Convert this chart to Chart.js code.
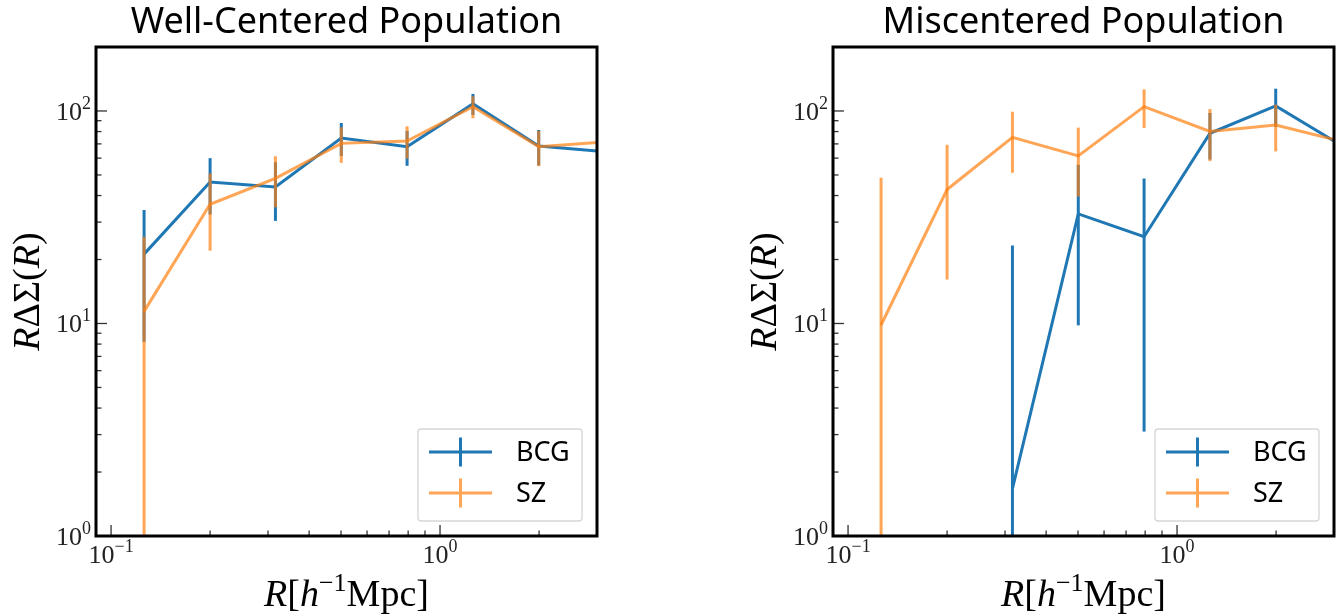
<!DOCTYPE html>
<html>
<head>
<meta charset="utf-8">
<script src="https://cdn.jsdelivr.net/npm/chart.js@4.4.1/dist/chart.umd.min.js"></script>
<style>
  html, body { margin: 0; padding: 0; background: #fff; }
  body { width: 1344px; height: 615px; position: relative; overflow: hidden; }
  .panel { position: absolute; top: 0; height: 615px; }
  #left { left: 0; width: 610px; }
  #right { left: 737px; width: 607px; }
</style>
</head>
<body>
<div class="panel" id="left"><canvas id="wellChart"></canvas></div>
<div class="panel" id="right"><canvas id="misChart"></canvas></div>
<script>
// radial bins [h^-1 Mpc]
var radii = [0.126, 0.2, 0.316, 0.501, 0.794, 1.259, 1.995, 3.162];

// Well-centered population: R*DeltaSigma and 1-sigma errors
var wellBCG = [21.2, 46.3, 43.9, 74.6, 67.9, 108, 68.4, 64.4];
var wellBCGErr = [13.0, 13.7, 13.5, 13.2, 12.7, 12.3, 13.0, 12.0];
var wellSZ = [11.4, 36.4, 48.2, 70.4, 72.2, 104.8, 67.8, 71.6];
var wellSZErr = [14.2, 14.4, 13.0, 13.4, 12.5, 12.4, 12.8, 12.0];

// Miscentered population (BCG negative in first two bins -> not shown on log axis)
var misBCG = [null, null, 1.67, 32.8, 25.6, 78.5, 105.7, 68.8];
var misBCGErr = [null, null, 21.6, 23.0, 22.5, 19.4, 21.6, 20.0];
var misSZ = [9.84, 42.7, 75.2, 61.5, 104.8, 80.1, 85.8, 71.9];
var misSZErr = [38.7, 26.6, 24.0, 22.0, 21.6, 22.0, 21.3, 20.0];

// axis ticks
var xMajorTicks = [0.1, 1];
var xMinorTicks = [0.2, 0.3, 0.4, 0.5, 0.6, 0.7, 0.8, 0.9, 2, 3];
var xTickLabels = [['10', '\u22121'], ['10', '0']];
var yMajorTicks = [1, 10, 100];
var yMinorTicks = [2, 3, 4, 5, 6, 7, 8, 9, 20, 30, 40, 50, 60, 70, 80, 90];
var yTickLabels = [['10', '0'], ['10', '1'], ['10', '2']];

var BLUE = '#1f77b4';
var ORANGE = 'rgba(255,127,14,0.7)';
var SERIF = "'Liberation Serif', 'DejaVu Serif', serif";
var SANS = "'Noto Sans', 'DejaVu Sans', sans-serif";

function toPoints(vals) {
    return radii.map(function (r, i) { return { x: r, y: vals[i] }; });
}

// draw a run of differently styled text pieces
function drawRuns(ctx, runs, x, y, align) {
    var w = 0;
    runs.forEach(function (r) { ctx.font = r.font; r.w = ctx.measureText(r.t).width; w += r.w; });
    var cx = align === 'center' ? x - w / 2 : (align === 'right' ? x - w : x);
    ctx.textAlign = 'left';
    ctx.textBaseline = 'alphabetic';
    runs.forEach(function (r) { ctx.font = r.font; ctx.fillText(r.t, cx, y + (r.dy || 0)); cx += r.w; });
}

// vertical error bars, drawn right after each dataset
var errorBars = {
    id: 'errorBars',
    afterDatasetDraw: function (chart, args) {
        var ds = chart.data.datasets[args.index];
        if (!ds.errors) return;
        var ctx = chart.ctx, a = chart.chartArea;
        var xs = chart.scales.x, ys = chart.scales.y;
        ctx.save();
        ctx.beginPath();
        ctx.rect(a.left, a.top, a.right - a.left, a.bottom - a.top);
        ctx.clip();
        ctx.strokeStyle = ds.borderColor;
        ctx.lineWidth = ds.borderWidth;
        ds.data.forEach(function (p, i) {
            var e = ds.errors[i];
            if (p.y == null || e == null) return;
            var px = xs.getPixelForValue(p.x);
            var top = ys.getPixelForValue(p.y + e);
            var lo = p.y - e;
            var bot = lo > 0 ? ys.getPixelForValue(lo) : a.bottom + 5;
            ctx.beginPath();
            ctx.moveTo(px, top);
            ctx.lineTo(px, bot);
            ctx.stroke();
        });
        ctx.restore();
    }
};

// matplotlib-like frame: spines, inward ticks, labels, legend
var mplFrame = {
    id: 'mplFrame',
    afterDraw: function (chart) {
        var ctx = chart.ctx, a = chart.chartArea;
        var xs = chart.scales.x, ys = chart.scales.y;
        ctx.save();

        // tick marks
        ctx.strokeStyle = '#333';
        ctx.lineWidth = 1.3;
        function tick(isX, v, len) {
            ctx.beginPath();
            if (isX) {
                var px = xs.getPixelForValue(v);
                ctx.moveTo(px, a.bottom); ctx.lineTo(px, a.bottom - len);
            } else {
                var py = ys.getPixelForValue(v);
                ctx.moveTo(a.left, py); ctx.lineTo(a.left + len, py);
            }
            ctx.stroke();
        }
        xMajorTicks.forEach(function (v) { tick(true, v, 11); });
        xMinorTicks.forEach(function (v) { tick(true, v, 5.5); });
        yMajorTicks.forEach(function (v) { tick(false, v, 11); });
        yMinorTicks.forEach(function (v) { tick(false, v, 5.5); });

        // spines
        ctx.strokeStyle = '#000';
        ctx.lineWidth = 3;
        ctx.strokeRect(a.left, a.top, a.right - a.left, a.bottom - a.top);

        // tick labels
        ctx.fillStyle = '#222';
        var big = '26px ' + SERIF, small = '18px ' + SERIF;
        xMajorTicks.forEach(function (v, i) {
            drawRuns(ctx, [{ t: xTickLabels[i][0], font: big }, { t: xTickLabels[i][1], font: small, dy: -11 }],
                xs.getPixelForValue(v), a.bottom + 27, 'center');
        });
        yMajorTicks.forEach(function (v, i) {
            drawRuns(ctx, [{ t: yTickLabels[i][0], font: big }, { t: yTickLabels[i][1], font: small, dy: -11 }],
                a.left - 5, ys.getPixelForValue(v) + 9, 'right');
        });

        // axis titles
        ctx.fillStyle = '#000';
        var it = 'italic 38px ' + SERIF, rm = '38px ' + SERIF, sup = '26px ' + SERIF;
        drawRuns(ctx, [
            { t: 'R', font: it }, { t: '[', font: rm }, { t: 'h', font: it },
            { t: '\u22121', font: sup, dy: -15 }, { t: 'Mpc', font: rm }, { t: ']', font: rm }
        ], (a.left + a.right) / 2, 606, 'center');
        ctx.save();
        ctx.translate(a.left - 57, (a.top + a.bottom) / 2);
        ctx.rotate(-Math.PI / 2);
        drawRuns(ctx, [
            { t: 'R', font: it }, { t: '\u0394\u03a3(', font: rm }, { t: 'R', font: it }, { t: ')', font: rm }
        ], 0, 0, 'center');
        ctx.restore();

        // legend
        var bw = 164, bh = 92;
        var bx = a.right - 15 - bw, by = a.bottom - 15 - bh;
        ctx.beginPath();
        ctx.roundRect(bx, by, bw, bh, 3);
        ctx.fillStyle = 'rgba(255,255,255,0.8)';
        ctx.fill();
        ctx.strokeStyle = '#d6d6d6';
        ctx.lineWidth = 1.3;
        ctx.stroke();
        chart.data.datasets.forEach(function (ds, i) {
            var ry = by + 23 + i * 41;
            ctx.strokeStyle = ds.borderColor;
            ctx.lineWidth = 3;
            ctx.beginPath();
            ctx.moveTo(bx + 11, ry); ctx.lineTo(bx + 74, ry);
            ctx.moveTo(bx + 42.5, ry - 14.5); ctx.lineTo(bx + 42.5, ry + 14.5);
            ctx.stroke();
            ctx.fillStyle = '#000';
            ctx.font = '27px ' + SANS;
            ctx.textAlign = 'left';
            ctx.textBaseline = 'middle';
            ctx.fillText(ds.label, bx + 98, ry + 1);
        });
        ctx.restore();
    }
};

function makePanel(id, title, bcg, bcgErr, sz, szErr, padRight) {
    new Chart(document.getElementById(id).getContext('2d'), {
        type: 'line',
        data: {
            datasets: [
                { label: 'BCG', data: toPoints(bcg), errors: bcgErr, borderColor: BLUE, borderWidth: 3,
                  pointRadius: 0, fill: false, order: 1 },
                { label: 'SZ', data: toPoints(sz), errors: szErr, borderColor: ORANGE, borderWidth: 3,
                  pointRadius: 0, fill: false, order: 0 }
            ]
        },
        options: {
            responsive: true, maintainAspectRatio: false, animation: false,
            layout: { padding: { left: 0, right: padRight, top: 0, bottom: 0 } },
            plugins: {
                legend: { display: false },
                tooltip: { enabled: false },
                title: {
                    display: true, text: title, fullSize: false, color: '#000',
                    font: { family: SANS, size: 36, weight: 'normal', lineHeight: 1 },
                    padding: { top: 5, bottom: 6 }
                }
            },
            scales: {
                x: {
                    type: 'logarithmic', min: 0.09, max: 3,
                    grid: { display: false }, border: { display: false }, ticks: { display: false },
                    afterFit: function (s) { s.height = 79; }
                },
                y: {
                    type: 'logarithmic', min: 1, max: 200,
                    grid: { display: false }, border: { display: false }, ticks: { display: false },
                    afterFit: function (s) { s.width = 96; }
                }
            }
        },
        plugins: [errorBars, mplFrame]
    });
}

makePanel('wellChart', 'Well-Centered Population', wellBCG, wellBCGErr, wellSZ, wellSZErr, 13);
makePanel('misChart', 'Miscentered Population', misBCG, misBCGErr, misSZ, misSZErr, 10);
</script>
</body>
</html>
